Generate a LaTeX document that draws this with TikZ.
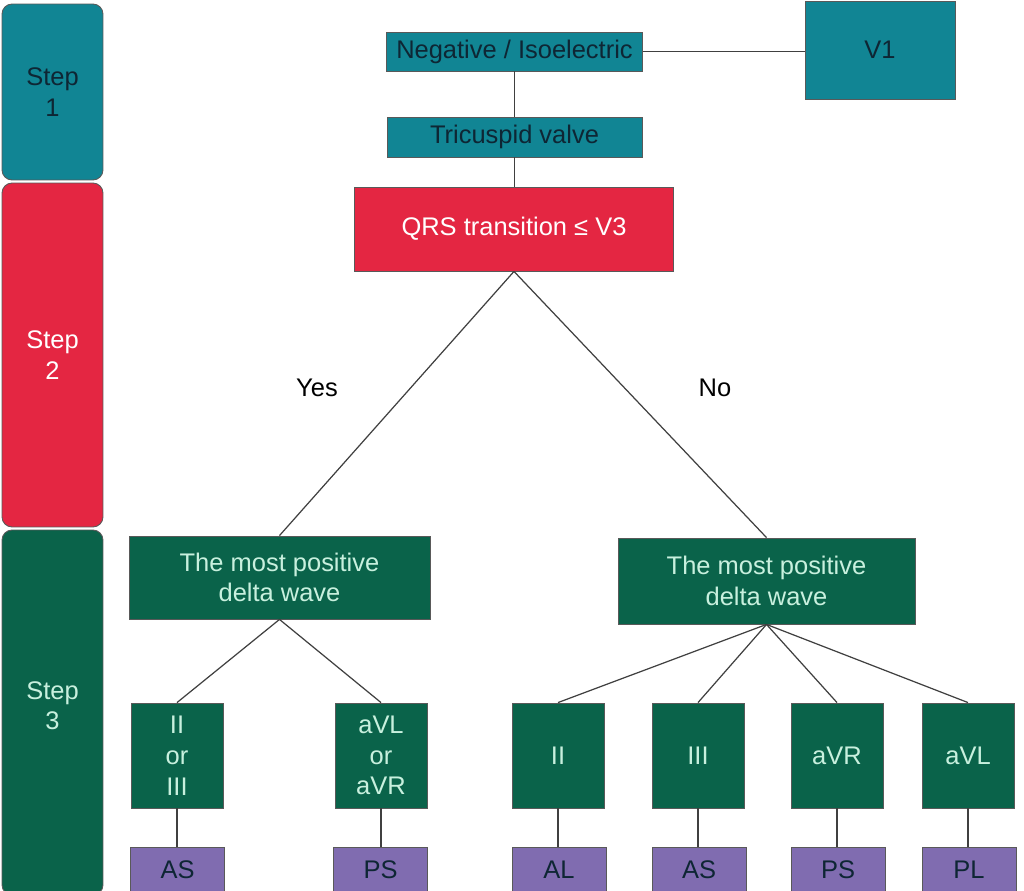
\documentclass[tikz,border=0pt]{standalone}
\usepackage{fontspec}
\setmainfont{Liberation Sans}
\definecolor{stepteal}{RGB}{17,133,148}
\definecolor{stepred}{RGB}{228,38,66}
\definecolor{stepgreen}{RGB}{10,99,74}
\definecolor{leafpurple}{RGB}{128,108,176}
\definecolor{darktext}{RGB}{14,38,52}
\definecolor{minttext}{RGB}{200,240,222}

\begin{document}
\begin{tikzpicture}[x=0.02cm,y=-0.02cm,
  cbox/.style={draw=black!65,line width=0.5pt,inner sep=0pt,align=center,
    font=\fontsize{14.5}{17.5}\selectfont},
  tealbox/.style={cbox,fill=stepteal,text=darktext},
  redbox/.style={cbox,fill=stepred,text=white},
  greenbox/.style={cbox,fill=stepgreen,text=minttext},
  leadbox/.style={greenbox,minimum width=1.84cm,minimum height=2.1cm},
  leafbox/.style={cbox,fill=leafpurple,text=darktext,minimum width=1.88cm,minimum height=0.92cm},
  stepbar/.style={cbox,rounded corners=0.2cm,minimum width=2.02cm},
  link/.style={draw=black!75,line width=0.7pt}]
  \useasboundingbox (0,0) rectangle (1024,891);
  % step column
  \node[stepbar,fill=stepteal,text=darktext,minimum height=3.52cm] (step1) at (52.5,92) {Step\\1};
  \node[stepbar,fill=stepred,text=white,minimum height=6.88cm] (step2) at (52.5,355) {Step\\2};
  \node[stepbar,fill=stepgreen,text=minttext,minimum height=7.3cm,text depth=0.28cm] (step3) at (52.5,712.5) {Step\\3};
  % step 1
  \node[tealbox,minimum width=5.12cm,minimum height=0.78cm] (neg) at (514.5,51.5) {Negative / Isoelectric};
  \node[tealbox,minimum width=3cm,minimum height=1.96cm] (v1) at (880,50) {V1};
  \node[tealbox,minimum width=5.1cm,minimum height=0.8cm] (tri) at (514.5,137) {Tricuspid valve};
  % step 2
  \node[redbox,minimum width=6.38cm,minimum height=1.68cm] (qrs) at (514,229) {QRS transition ≤ V3};
  \node[font=\fontsize{14.5}{17.5}\selectfont] (yes) at (317,388) {Yes};
  \node[font=\fontsize{14.5}{17.5}\selectfont] (no) at (715,388) {No};
  % step 3
  \node[greenbox,minimum width=6.02cm,minimum height=1.66cm] (dleft) at (279.5,577.5) {The most positive\\delta wave};
  \node[greenbox,minimum width=5.94cm,minimum height=1.72cm] (dright) at (766.5,581) {The most positive\\delta wave};
  \node[leadbox] (l1) at (177,755.5) {II\\or\\III};
  \node[leadbox] (l2) at (381,755.5) {aVL\\or\\aVR};
  \node[leadbox] (r1) at (558,755.5) {II};
  \node[leadbox] (r2) at (698,755.5) {III};
  \node[leadbox] (r3) at (837,755.5) {aVR};
  \node[leadbox] (r4) at (968,755.5) {aVL};
  \node[leafbox] (al1) at (177.5,870) {AS};
  \node[leafbox] (al2) at (380.5,870) {PS};
  \node[leafbox] (ar1) at (559,870) {AL};
  \node[leafbox] (ar2) at (699,870) {AS};
  \node[leafbox] (ar3) at (838,870) {PS};
  \node[leafbox] (ar4) at (969,870) {PL};
  % connectors
  \draw[link] (neg.east) -- (neg.east -| v1.west);
  \draw[link] (neg.south) -- (tri.north);
  \draw[link] (tri.south) -- (tri.south |- qrs.north);
  \draw[link] (qrs.south) -- (dleft.north);
  \draw[link] (qrs.south) -- (dright.north);
  \foreach \c in {l1,l2}
    \draw[link] (dleft.south) -- (\c.north);
  \foreach \c in {r1,r2,r3,r4}
    \draw[link] (dright.south) -- (\c.north);
  \foreach \a/\b in {l1/al1,l2/al2,r1/ar1,r2/ar2,r3/ar3,r4/ar4}
    \draw[link] (\a.south) -- (\a.south |- \b.north);
\end{tikzpicture}
\end{document}
